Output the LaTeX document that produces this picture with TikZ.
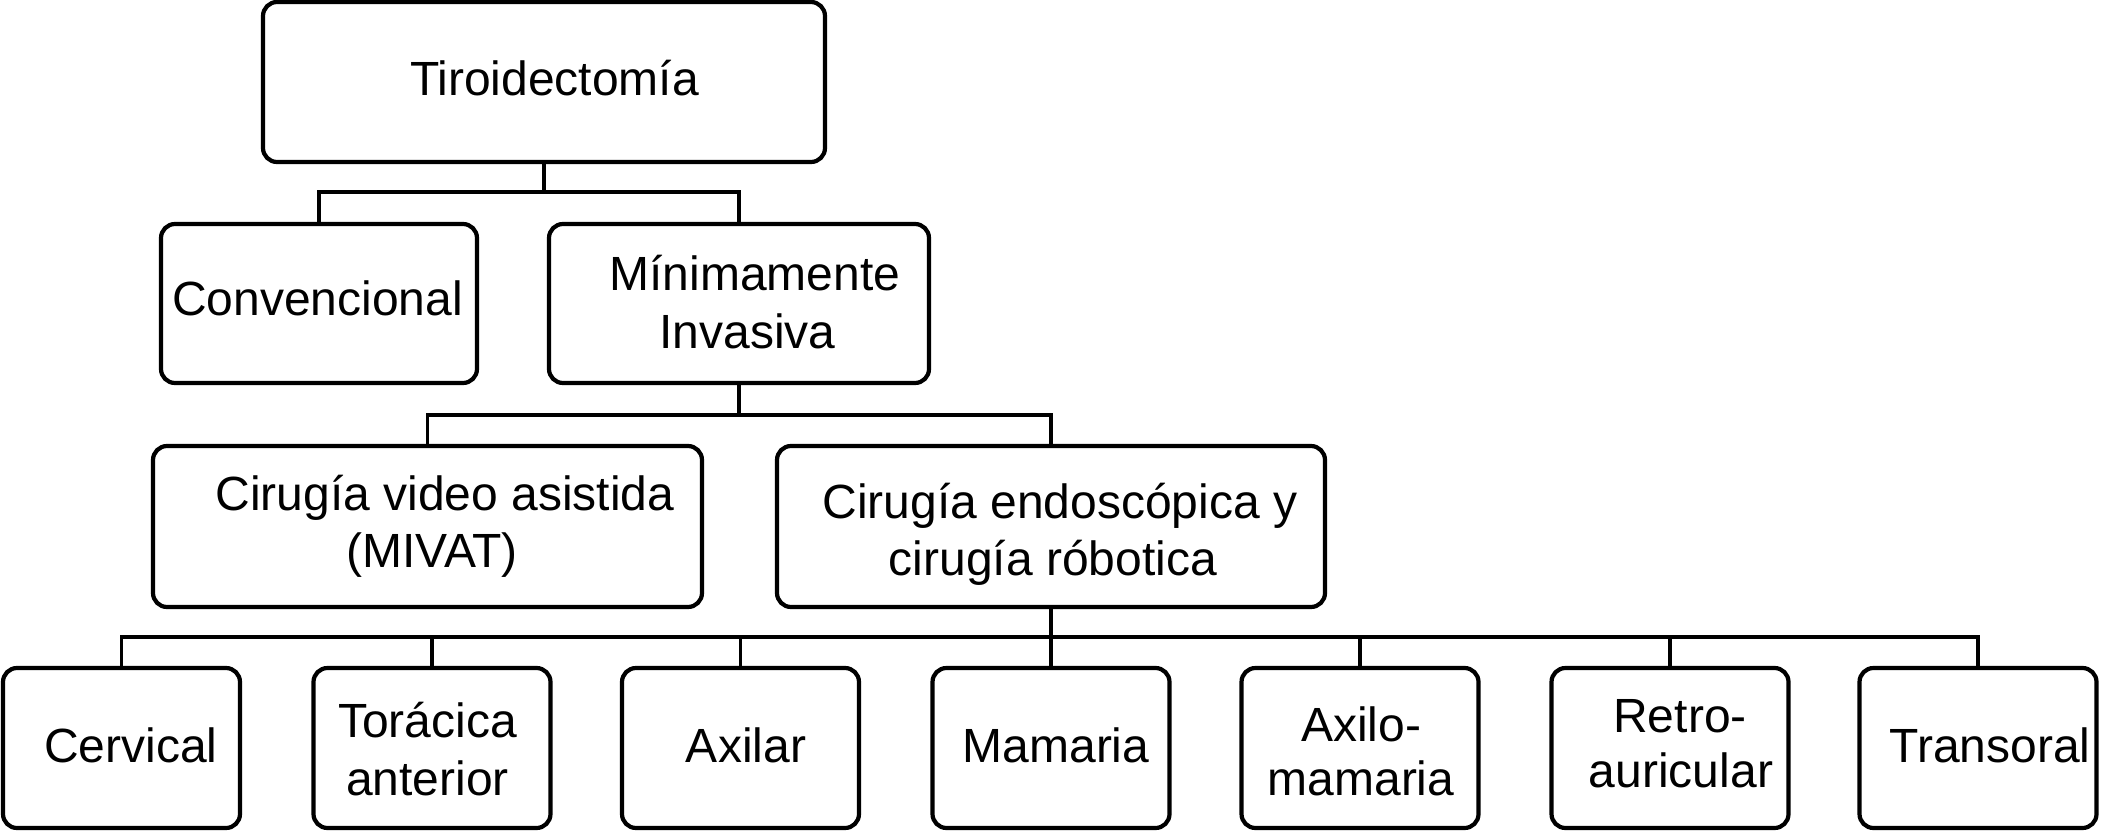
\documentclass[tikz,border=0pt]{standalone}
\usepackage{fontspec}
\setmainfont{Liberation Sans}
\begin{document}
\begin{tikzpicture}[x=1pt,y=-1pt,
  box/.style={draw, line width=4.2pt, rounded corners=14pt, inner sep=0pt},
  bbox/.style={box, minimum width=237pt, minimum height=160pt},
  txt/.style={anchor=base, inner sep=0pt, font=\fontsize{48}{57.6}\selectfont},
  conn/.style={line width=3.6pt}]
\useasboundingbox (0,0) rectangle (2101,830);
% boxes
\node[box, minimum width=562pt, minimum height=160pt] (top) at (544,82) {};
\node[box, minimum width=316pt, minimum height=159pt] (conv) at (319,303.5) {};
\node[box, minimum width=380pt, minimum height=159pt] (min) at (739,303.5) {};
\node[box, minimum width=549pt, minimum height=161pt] (video) at (427.5,526.5) {};
\node[box, minimum width=548pt, minimum height=161pt] (endo) at (1051,526.5) {};
\node[bbox] (cerv) at (121.5,748) {};
\node[bbox] (tor) at (432,748) {};
\node[bbox] (axil) at (740.5,748) {};
\node[bbox] (mam) at (1051,748) {};
\node[bbox] (axmam) at (1360,748) {};
\node[bbox] (retro) at (1670,748) {};
\node[bbox] (trans) at (1978,748) {};
% texts
\node[txt] (t-top) at (554.5,95) {Tiroidectomía};
\node[txt] (t-conv) at (317.5,315) {Convencional};
\node[txt] (t-min1) at (755,290) {Mínimamente};
\node[txt] (t-min2) at (747.6,348) {Invasiva};
\node[txt] (t-vid1) at (445,510) {Cirugía video asistida};
\node[txt] (t-vid2) at (432,567) {(MIVAT)};
\node[txt] (t-end1) at (1060,518) {Cirugía endoscópica y};
\node[txt] (t-end2) at (1053,575) {cirugía róbotica};
\node[txt] (t-cerv) at (131,762) {Cervical};
\node[txt] (t-tor1) at (427.5,737) {Torácica};
\node[txt] (t-tor2) at (427.6,795) {anterior};
\node[txt] (t-axil) at (746,762) {Axilar};
\node[txt] (t-mam) at (1056,762) {Mamaria};
\node[txt] (t-axm1) at (1361,741) {Axilo-};
\node[txt] (t-axm2) at (1361,795) {mamaria};
\node[txt] (t-ret1) at (1680,732) {Retro-};
\node[txt] (t-ret2) at (1681,787) {auricular};
\node[txt] (t-tra) at (1990,762) {Transoral};
% junctions
\coordinate (j1) at (544,192);
\coordinate (j2) at (739,415);
\coordinate (j3) at (1051,637);
% connectors
\draw[conn] (top.south) -- (j1);
\draw[conn] (conv.north) |- (j1) -| (min.north);
\draw[conn] (min.south) -- (j2);
\draw[conn] (video.north) |- (j2) -| (endo.north);
\draw[conn] (endo.south) -- (j3);
\draw[conn] (cerv.north) |- (j3) -| (trans.north);
\foreach \n in {tor,axil,mam,axmam,retro}
  \draw[conn] (\n.north) -- (\n.north |- j3);
\end{tikzpicture}
\end{document}
